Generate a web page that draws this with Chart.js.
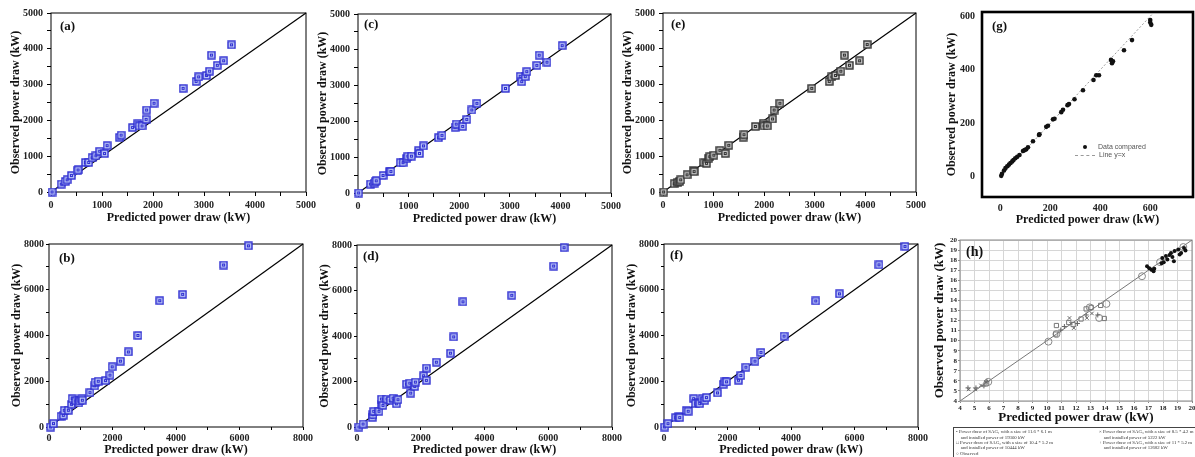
<!DOCTYPE html>
<html>
<head>
<meta charset="utf-8">
<script src="https://cdn.jsdelivr.net/npm/chart.js@4.4.1/dist/chart.umd.min.js"></script>
<style>
  html, body { margin: 0; padding: 0; background: #fff; }
  body { width: 1195px; height: 457px; position: relative; overflow: hidden; }
  canvas { position: absolute; }
  .gLeg { position: absolute; font-family: 'Liberation Sans', Arial, sans-serif; font-size: 7px; color: #555; white-space: nowrap; }
  #hLegend { position: absolute; left: 953px; top: 427px; width: 250px; height: 32px; border: 1px solid #444; box-sizing: border-box; }
  #hLegend .col { position: absolute; top: 1px; font-family: 'Liberation Serif', 'Times New Roman', serif; font-size: 9.6px; line-height: 10.8px; color: #333; white-space: nowrap; transform: scale(0.5); transform-origin: 0 0; }
</style>
</head>
<body>
<script>
const pointsA = [[20,0],[200,220],[280,295],[315,340],[400,460],[510,590],[530,615],[675,825],[740,825],[805,955],[880,1010],[955,1140],[1050,1075],[1100,1295],[1345,1525],[1375,1590],[1600,1800],[1700,1905],[1730,1845],[1785,1845],[1865,2030],[1875,2290],[2020,2480],[2590,2895],[2845,3090],[2895,3215],[3050,3255],[3110,3375],[3145,3825],[3260,3540],[3385,3665],[3540,4110]];
const pointsC = [[13,0],[245,250],[320,275],[340,320],[360,340],[495,490],[625,600],[650,600],[835,845],[890,845],[965,965],[985,1030],[1055,1030],[1195,1180],[1215,1105],[1295,1315],[1590,1545],[1660,1610],[1920,1840],[1940,1925],[2070,1860],[2150,2055],[2250,2320],[2350,2505],[2915,2920],[3205,3260],[3235,3110],[3305,3250],[3335,3390],[3535,3565],[3580,3850],[3735,3655],[4035,4115]];
const pointsE = [[13,0],[220,230],[295,275],[330,295],[350,340],[475,480],[595,595],[615,570],[810,820],[860,800],[905,945],[925,985],[1005,1030],[1125,1165],[1230,1075],[1300,1305],[1585,1535],[1600,1600],[1825,1830],[1980,1920],[1995,1845],[2060,1845],[2165,2040],[2195,2290],[2310,2480],[2940,2895],[3285,3090],[3335,3215],[3410,3255],[3515,3375],[3585,3825],[3685,3540],[3885,3665],[4035,4120]];
const pointsB = [[50,0],[140,150],[380,470],[450,510],[480,730],[610,730],[710,990],[730,1240],[850,1140],[940,1050],[970,1140],[1030,1240],[1050,1170],[1290,1500],[1440,1800],[1450,1960],[1550,2000],[1780,2030],[1920,2270],[1990,2630],[2250,2880],[2500,3280],[2800,4000],[3490,5520],[4210,5800],[5500,7080],[6280,7920]];
const pointsD = [[60,0],[190,130],[480,425],[500,540],[525,690],[690,690],[765,980],[765,1230],[815,950],[940,1230],[1045,1170],[1130,1270],[1235,1020],[1285,1200],[1550,1890],[1685,1490],[1655,1930],[1810,1785],[1830,1975],[2090,2250],[2175,2050],[2175,2590],[2490,2850],[2930,3245],[3035,3960],[3325,5500],[4855,5790],[6170,7075],[6495,7880]];
const pointsF = [[20,0],[125,145],[370,410],[465,440],[495,410],[705,730],[760,690],[935,1240],[990,1020],[1075,1050],[1125,1020],[1200,1240],[1285,1170],[1335,1285],[1685,1490],[1865,1870],[1915,1975],[1970,1975],[2345,2045],[2420,2250],[2580,2615],[2865,2880],[3055,3260],[3780,3975],[4780,5510],[5525,5820],[6770,7090],[7590,7895]];
const pointsG = [[4,4],[7,12],[15,24],[21,33],[28,40],[35,46],[41,52],[48,58],[53,63],[60,70],[68,75],[77,82],[91,97],[97,100],[104,103],[111,111],[131,133],[155,157],[157,159],[184,187],[191,191],[211,215],[217,217],[244,242],[251,251],[269,268],[275,272],[297,290],[331,324],[373,362],[384,380],[395,380],[443,437],[451,432],[447,425],[495,473],[527,511],[600,586],[600,577],[604,568]];
const hSag1 = [[16.9,17.4],[17.05,17.2],[17.2,17.05],[17.35,16.9],[17.4,17.15],[17.9,17.7],[17.95,18.2],[18.05,17.8],[18.2,18.4],[18.3,18.05],[18.45,18.5],[18.55,18.7],[18.65,18.3],[18.75,17.9],[18.8,18.9],[19.05,19.05],[19.15,18.55],[19.25,18.7],[19.45,19.2],[19.55,18.95]];
const hSag2 = [[5.8,5.7],[10.65,11.5],[10.6,10.65],[11.5,11.8],[11.8,11.6],[12.35,12.15],[12.7,13.15],[13.05,13.3],[13.7,13.5],[13.95,12.2]];
const hSag3 = [[4.6,5.15],[5.05,5.15],[5.45,5.55],[5.8,5.9],[11.55,12.25],[11.65,11.7],[11.85,11.25],[12.75,12.25],[13.1,12.7]];
const hSag4 = [[4.55,5.3],[5.1,5.3],[5.65,5.5],[5.85,5.95],[10.95,11.05],[11.2,11.4],[12.1,11.7],[12.7,12.55],[13.5,12.55]];
const hObserved = [[5.95,5.9],[10.1,9.9],[10.65,10.65],[12.95,13.3],[13.6,12.25],[14.1,13.65],[16.55,16.4],[17.8,17.8],[19.4,19.3]];

// ejes y marcas
const range5000 = [0, 5000];
const range8000 = [0, 8000];
const ticks5000 = [0,500,1000,1500,2000,2500,3000,3500,4000,4500,5000];
const labels5000 = [0,1000,2000,3000,4000,5000];
const ticks8000 = [0,1000,2000,3000,4000,5000,6000,7000,8000];
const labels8000 = [0,2000,4000,6000,8000];
const rangeGx = [-73, 771];
const rangeGy = [-75, 616];
const ticksG = [0,200,400,600];
const lineG = [0, 610];
const rangeH = [4, 20];
const ticksH = [4,5,6,7,8,9,10,11,12,13,14,15,16,17,18,19,20];

const hNames = [
  ['\u2022', 'Power draw of SAG\u2081 with a size of 11.6 * 6.1 m', 'and installed power of 19300 kW'],
  ['\u25A1', 'Power draw of SAG\u2082 with a size of 10.4 * 5.2 m', 'and installed power of 10444 kW'],
  ['\u00D7', 'Power draw of SAG\u2083 with a size of 8.5 * 4.2 m', 'and installed power of 5222 kW'],
  ['+', 'Power draw of SAG\u2084 with a size of 11 * 5.2 m', 'and installed power of 12682 kW'],
  ['\u25CB', 'Observed', '']
];

const FONT = "'Liberation Serif', 'Times New Roman', serif";
const INK = '#222';

// marcador cuadrado doble
function squareMarker(stroke, fill) {
  const c = document.createElement('canvas');
  c.width = 9; c.height = 9;
  const g = c.getContext('2d');
  g.fillStyle = fill;
  g.fillRect(1, 1, 7, 7);
  g.strokeStyle = stroke;
  g.lineWidth = 1.4;
  g.strokeRect(1, 1, 7, 7);
  g.lineWidth = 1;
  g.strokeRect(3.5, 3.5, 2, 2);
  return c;
}
const markBlue = squareMarker('#2f2fd2', '#b9c3f6');
const markGray = squareMarker('#333333', '#c6c6c6');

const toXY = arr => arr.map(p => ({ x: p[0], y: p[1] }));
const diag = r => [{ x: r[0], y: r[0] }, { x: r[1], y: r[1] }];

const framePlugin = {
  id: 'frame',
  beforeDatasetsDraw(chart, args, o) {
    const { ctx, chartArea: a } = chart;
    ctx.save();
    ctx.strokeStyle = o.color;
    ctx.lineWidth = o.width;
    ctx.strokeRect(a.left, a.top, a.right - a.left, a.bottom - a.top);
    ctx.restore();
  }
};
const tagPlugin = {
  id: 'tag',
  afterDatasetsDraw(chart, args, o) {
    const { ctx, chartArea: a } = chart;
    ctx.save();
    ctx.font = 'bold ' + o.size + 'px ' + FONT;
    ctx.fillStyle = '#111';
    ctx.textBaseline = 'middle';
    ctx.fillText(o.text, a.left + o.dx, a.top + o.dy);
    ctx.restore();
  }
};

function scaleOpts(p, axis) {
  const isX = axis === 'x';
  const r = isX ? p.xRange : p.yRange;
  const ticks = isX ? p.xTicks : p.yTicks;
  const labels = isX ? p.xLabels : p.yLabels;
  return {
    type: 'linear', min: r[0], max: r[1],
    afterBuildTicks: s => { s.ticks = ticks.map(v => ({ value: v })); },
    afterFit: s => { if (isX) s.height = p.xH; else s.width = p.yW; },
    ticks: {
      autoSkip: false, maxRotation: 0,
      padding: isX ? p.xTickPad : p.yTickPad,
      font: { family: FONT, weight: 'bold', size: p.tickSize },
      color: INK,
      callback: v => labels.includes(v) ? String(v) : ''
    },
    grid: {
      display: p.tickLen > 0 || !!p.grid,
      drawOnChartArea: !!p.grid,
      color: p.grid || '#000',
      tickColor: p.tickColor || '#000',
      tickLength: p.tickLen,
      drawTicks: p.tickLen > 0
    },
    border: { display: false },
    title: {
      display: true,
      text: isX ? 'Predicted power draw (kW)' : 'Observed power draw (kW)',
      color: '#111',
      font: { family: FONT, weight: 'bold', size: isX ? p.xTitleSize : p.yTitleSize },
      padding: isX ? { top: 0, bottom: p.xTitlePad } : { top: p.yTitlePad, bottom: 0 }
    }
  };
}

function addPanel(p) {
  const cv = document.createElement('canvas');
  cv.width = p.yW + p.plot.w + p.padR;
  cv.height = p.padT + p.plot.h + p.xH;
  cv.style.left = (p.plot.x - p.yW) + 'px';
  cv.style.top = (p.plot.y - p.padT) + 'px';
  document.body.appendChild(cv);
  new Chart(cv, {
    type: 'scatter',
    data: { datasets: p.datasets },
    options: {
      responsive: false, animation: false, devicePixelRatio: 1,
      layout: { padding: { top: p.padT, right: p.padR, left: 0, bottom: 0 } },
      plugins: {
        legend: { display: false }, tooltip: { enabled: false },
        frame: p.frame, tag: p.tag
      },
      scales: { x: scaleOpts(p, 'x'), y: scaleOpts(p, 'y') }
    },
    plugins: [framePlugin, tagPlugin]
  });
}

function squareSet(points, mark, range) {
  return [
    { data: toXY(points), pointStyle: mark, pointRadius: 4.5, clip: false },
    { type: 'line', data: diag(range), borderColor: '#000', borderWidth: 1.2, pointRadius: 0, clip: false }
  ];
}

const topRow = { yW: 43, xH: 34, padT: 8, padR: 14, tickSize: 10, tickLen: 4, xTickPad: 3, yTickPad: 4,
  xTitleSize: 12, yTitleSize: 12, xTitlePad: 1, yTitlePad: 1, frame: { color: '#000', width: 1 },
  xRange: range5000, yRange: range5000, xTicks: ticks5000, yTicks: ticks5000, xLabels: labels5000, yLabels: labels5000 };
const botRow = Object.assign({}, topRow, { yW: 40, xH: 31, tickLen: 3, xTickPad: 2.5, yTickPad: 2,
  xRange: range8000, yRange: range8000, xTicks: ticks8000, yTicks: ticks8000, xLabels: labels8000, yLabels: labels8000 });

addPanel(Object.assign({}, topRow, { plot: { x: 51, y: 11, w: 255, h: 181 },
  tag: { text: '(a)', size: 13, dx: 9, dy: 13.5 }, datasets: squareSet(pointsA, markBlue, range5000) }));
addPanel(Object.assign({}, topRow, { plot: { x: 358, y: 12, w: 253, h: 181 },
  tag: { text: '(c)', size: 13, dx: 6, dy: 11 }, datasets: squareSet(pointsC, markBlue, range5000) }));
addPanel(Object.assign({}, topRow, { plot: { x: 663, y: 11, w: 253, h: 181 },
  tag: { text: '(e)', size: 13, dx: 8, dy: 12 }, datasets: squareSet(pointsE, markGray, range5000) }));

addPanel(Object.assign({}, botRow, { plot: { x: 49, y: 244, w: 254, h: 183 },
  tag: { text: '(b)', size: 13, dx: 10, dy: 15 }, datasets: squareSet(pointsB, markBlue, range8000) }));
addPanel(Object.assign({}, botRow, { plot: { x: 357, y: 245, w: 255, h: 182 },
  tag: { text: '(d)', size: 13, dx: 6, dy: 12 }, datasets: squareSet(pointsD, markBlue, range8000) }));
addPanel(Object.assign({}, botRow, { plot: { x: 664, y: 244, w: 254, h: 183 },
  tag: { text: '(f)', size: 13, dx: 6, dy: 12 }, datasets: squareSet(pointsF, markBlue, range8000) }));

// (g)
addPanel({ plot: { x: 982, y: 7, w: 211, h: 190 }, yW: 38, xH: 31, padT: 8, padR: 14,
  tickSize: 10, tickLen: 0, xTickPad: 5, yTickPad: 7, xTitleSize: 12, yTitleSize: 12, xTitlePad: 1, yTitlePad: 1,
  xRange: rangeGx, yRange: rangeGy, xTicks: ticksG, yTicks: ticksG, xLabels: ticksG, yLabels: ticksG,
  frame: { color: '#000', width: 2.6 }, tag: { text: '(g)', size: 13, dx: 10, dy: 15 },
  datasets: [
    { data: toXY(pointsG), pointStyle: 'circle', pointRadius: 2.3, backgroundColor: '#111', borderColor: '#111', borderWidth: 0, clip: false },
    { type: 'line', data: diag(lineG), borderColor: '#999', borderWidth: 1, borderDash: [2, 2], pointRadius: 0 }
  ] });

// (h)
addPanel({ plot: { x: 960, y: 240, w: 233, h: 161 }, yW: 28, xH: 25, padT: 6, padR: 4,
  tickSize: 7, tickLen: 2, xTickPad: 1, yTickPad: 1, xTitleSize: 13, yTitleSize: 13, xTitlePad: 0.5, yTitlePad: 0,
  grid: '#d6d6d6', tickColor: '#888',
  xRange: rangeH, yRange: rangeH, xTicks: ticksH, yTicks: ticksH, xLabels: ticksH, yLabels: ticksH,
  frame: { color: '#888', width: 1 }, tag: { text: '(h)', size: 14, dx: 6, dy: 12 },
  datasets: [
    { data: toXY(hSag1), pointStyle: 'circle', pointRadius: 2, backgroundColor: '#111', borderColor: '#111', borderWidth: 0 },
    { data: toXY(hSag2), pointStyle: 'rect', pointRadius: 3, backgroundColor: 'rgba(0,0,0,0)', borderColor: '#777', borderWidth: 1 },
    { data: toXY(hSag3), pointStyle: 'crossRot', pointRadius: 2.5, borderColor: '#666', borderWidth: 1 },
    { data: toXY(hSag4), pointStyle: 'cross', pointRadius: 2.5, borderColor: '#666', borderWidth: 1 },
    { data: toXY(hObserved), pointStyle: 'circle', pointRadius: 3.5, backgroundColor: 'rgba(0,0,0,0)', borderColor: '#888', borderWidth: 1 },
    { type: 'line', data: diag(rangeH), borderColor: '#777', borderWidth: 1, pointRadius: 0 }
  ] });

// leyenda de (g)
const gDot = document.createElement('div');
gDot.className = 'gLeg';
gDot.style.left = '1083px'; gDot.style.top = '143px';
gDot.innerHTML = '<span style="display:inline-block;width:4px;height:4px;border-radius:2px;background:#111;vertical-align:middle;margin-right:11px"></span>Data compared';
document.body.appendChild(gDot);
const gLine = document.createElement('div');
gLine.className = 'gLeg';
gLine.style.left = '1075px'; gLine.style.top = '151px';
gLine.innerHTML = '<span style="display:inline-block;width:20px;border-top:1px dashed #999;vertical-align:middle;margin-right:4px"></span>Line y=x';
document.body.appendChild(gLine);

// leyenda de (h)
const hLeg = document.createElement('div');
hLeg.id = 'hLegend';
const colL = document.createElement('div');
colL.className = 'col'; colL.style.left = '2px';
const colR = document.createElement('div');
colR.className = 'col'; colR.style.left = '145px';
const lineOf = e => e[0] + ' ' + e[1] + (e[2] ? '<br>&nbsp;&nbsp;&nbsp;&nbsp;' + e[2] : '');
colL.innerHTML = [hNames[0], hNames[1], hNames[4]].map(lineOf).join('<br>');
colR.innerHTML = [hNames[2], hNames[3]].map(lineOf).join('<br>');
hLeg.appendChild(colL);
hLeg.appendChild(colR);
document.body.appendChild(hLeg);
</script>
</body>
</html>
